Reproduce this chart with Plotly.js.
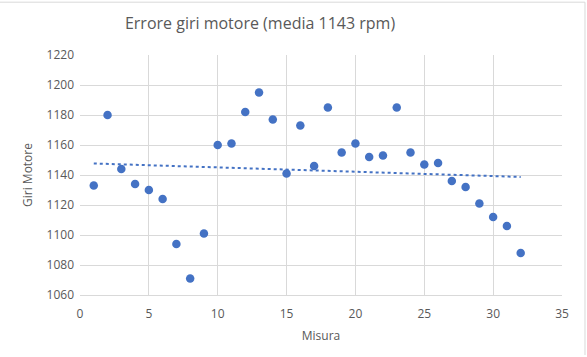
<!DOCTYPE html>
<html><head><meta charset="utf-8">
<script src="https://cdn.plot.ly/plotly-3.0.1.min.js"></script>
<style>html,body{margin:0;padding:0;background:#fff;}#chart{width:587px;height:357px;}</style>
</head><body><div id="chart"></div>
<script>
const misura = [1,2,3,4,5,6,7,8,9,10,11,12,13,14,15,16,17,18,19,20,21,22,23,24,25,26,27,28,29,30,31,32];
const giri = [1133,1180,1144,1134,1130,1124,1094,1071,1101,1160,1161,1182,1195,1177,1141,1173,1146,1185,1155,1161,1152,1153,1185,1155,1147,1148,1136,1132,1121,1112,1106,1088];
const chartTitle = 'Errore giri motore (media 1143 rpm)';
const xTitle = 'Misura';
const yTitle = 'Giri Motore';

// linear regression trendline from the data
const n = misura.length;
const mx = misura.reduce((a,b)=>a+b,0)/n;
const my = giri.reduce((a,b)=>a+b,0)/n;
let sxy=0, sxx=0;
for (let i=0;i<n;i++){ sxy+=(misura[i]-mx)*(giri[i]-my); sxx+=(misura[i]-mx)**2; }
const slope = sxy/sxx, icpt = my - slope*mx;
const trendX = [misura[0], misura[n-1]];
const trendY = trendX.map(x=>icpt+slope*x);

const grey = '#595959';
const font = {family:'Open Sans, sans-serif', color: grey};
const data = [
  {x: misura, y: giri, type:'scatter', mode:'markers', marker:{color:'#4472c4', size:8.5}, showlegend:false},
  {x: trendX, y: trendY, type:'scatter', mode:'lines', line:{color:'#4472c4', width:2, dash:'dot'}, showlegend:false}
];
const layout = {
  width:587, height:357,
  margin:{l:80, r:25, t:55, b:62},
  paper_bgcolor:'#fff', plot_bgcolor:'#fff',
  font: font,
  title:{text: chartTitle, font:{family:'Open Sans, sans-serif', size:16, color: grey}, x:0.443, xanchor:'center', y:0.935, yanchor:'middle'},
  xaxis:{range:[0,35], dtick:5, tick0:0, showgrid:true, gridcolor:'#d9d9d9', zeroline:false,
         showline:true, linecolor:'#d9d9d9', mirror:false, ticks:'', ticklabelstandoff:8, tickfont:{size:12, color:grey},
         title:{text:xTitle, font:{size:12, color:grey}, standoff:10}},
  yaxis:{range:[1060,1220], dtick:20, tick0:1060, showgrid:true, gridcolor:'#d9d9d9', zeroline:false,
         showline:false, ticks:'', ticklabelstandoff:5, tickfont:{size:12, color:grey},
         title:{text:yTitle, font:{size:12, color:grey}, standoff:11}},
  shapes:[
    {type:'line', xref:'paper', yref:'paper', x0:1.0477, x1:1.0477, y0:-0.25, y1:1.22, line:{color:'#d9d9d9', width:1}},
    {type:'line', xref:'paper', yref:'paper', x0:-0.2, x1:1.0477, y0:1.22, y1:1.22, line:{color:'#d9d9d9', width:1}}
  ]
};
Plotly.newPlot('chart', data, layout, {displayModeBar:false, staticPlot:true});
</script>
</body></html>
